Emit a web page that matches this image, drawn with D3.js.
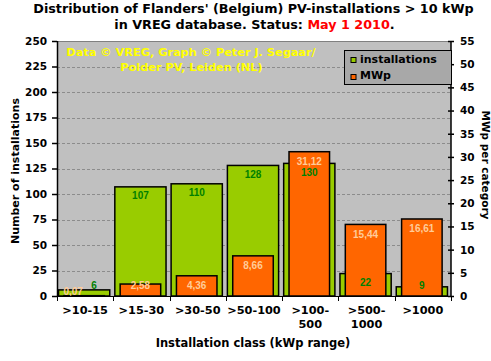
<!DOCTYPE html>
<html><head><meta charset="utf-8">
<script src="https://cdn.jsdelivr.net/npm/d3@7"></script>
<style>
body{margin:0;background:#fff;}
text{font-family:"DejaVu Sans",Verdana,sans-serif;font-weight:bold;}
</style></head>
<body><svg id="c" width="491" height="361"></svg>
<script>
const categories = [">10-15", ">15-30", ">30-50", ">50-100", ">100-500", ">500-1000", ">1000"];
const categoryLines = [[">10-15"], [">15-30"], [">30-50"], [">50-100"], [">100-", "500"], [">500-", "1000"], [">1000"]];
const installations = [6, 107, 110, 128, 130, 22, 9];
const mwp = [0.07, 2.58, 4.36, 8.66, 31.12, 15.44, 16.61];
const leftTicks = [0, 25, 50, 75, 100, 125, 150, 175, 200, 225, 250];
const rightTicks = [0, 5, 10, 15, 20, 25, 30, 35, 40, 45, 50, 55];

const svg = d3.select("#c");
const L = 57, R = 451, T = 41, B = 296;
const x = d3.scaleBand().domain(categories).range([L, R]).padding(0);
const yL = d3.scaleLinear().domain([0, 250]).range([B, T]);
const yR = d3.scaleLinear().domain([0, 55]).range([B, T]);
const bw = x.bandwidth();

// plot area
svg.append("rect").attr("x", L).attr("y", T).attr("width", R - L).attr("height", B - T).attr("fill", "#C0C0C0");
svg.append("line").attr("x1", L).attr("x2", R).attr("y1", T + 0.5).attr("y2", T + 0.5).attr("stroke", "#808080").attr("stroke-width", 1);
// gridlines
svg.append("g").selectAll("line").data(leftTicks.filter(d => d > 0 && d < 250)).join("line")
  .attr("x1", L).attr("x2", R).attr("y1", d => Math.round(yL(d)) + 0.5).attr("y2", d => Math.round(yL(d)) + 0.5)
  .attr("stroke", "#8C8C8C").attr("stroke-dasharray", "3,2");

// green bars
const gw = bw * 0.91;
svg.append("g").selectAll("rect").data(installations).join("rect")
  .attr("x", (d, i) => x(categories[i]) + bw / 2 - 1 - gw / 2)
  .attr("y", d => yL(d)).attr("width", gw).attr("height", d => B - yL(d))
  .attr("fill", "#99CC00").attr("stroke", "#000").attr("stroke-width", 1.5);
// orange bars
const ow = bw * 0.72;
svg.append("g").selectAll("rect").data(mwp).join("rect")
  .attr("x", (d, i) => x(categories[i]) + bw / 2 - 1 - ow / 2)
  .attr("y", d => yR(d)).attr("width", ow).attr("height", d => B - yR(d))
  .attr("fill", "#FF6600").attr("stroke", "#000").attr("stroke-width", 1.5);

// data labels
const fmt = v => d3.format(".2f")(v).replace(".", ",");
const nudgeG = {0: [10, 0]};
const nudgeO = {0: [-11, 5.5]};
svg.append("g").selectAll("text").data(mwp).join("text")
  .attr("x", (d, i) => x(categories[i]) + bw / 2 - 1 + (nudgeO[i] ? nudgeO[i][0] : 0))
  .attr("y", (d, i) => Math.min(yR(d) + 13.3, 289.3) + (nudgeO[i] ? nudgeO[i][1] : 0))
  .attr("text-anchor", "middle").attr("fill", "#FFCC99")
  .style("font-family", "'Liberation Sans',Arial,sans-serif").style("font-size", "10px")
  .text(d => fmt(d));
svg.append("g").selectAll("text").data(installations).join("text")
  .attr("x", (d, i) => x(categories[i]) + bw / 2 - 1 + (nudgeG[i] ? nudgeG[i][0] : 0))
  .attr("y", (d, i) => Math.min(yL(d) + 12.6, 288.8) + (nudgeG[i] ? nudgeG[i][1] : 0))
  .attr("text-anchor", "middle").attr("fill", "#008000")
  .style("font-family", "'Liberation Sans',Arial,sans-serif").style("font-size", "10px")
  .text(d => d);

// left axis
const gl = svg.append("g").attr("transform", `translate(${L},0)`)
  .call(d3.axisLeft(yL).tickValues(leftTicks).tickSize(5).tickPadding(5));
// right axis
const gr = svg.append("g").attr("transform", `translate(${R},0)`)
  .call(d3.axisRight(yR).tickValues(rightTicks).tickSize(3).tickPadding(6));
gr.selectAll(".tick line").attr("x1", -3);
// bottom axis
const gb = svg.append("g").attr("transform", `translate(0,${B})`);
gb.append("line").attr("x1", L).attr("x2", R).attr("y1", 0.5).attr("y2", 0.5).attr("stroke", "#000");
gb.selectAll(".xt").data(categories.concat(["end"])).join("line").attr("class", "xt")
  .attr("x1", (d, i) => Math.round(L + i * bw) + 0.5).attr("x2", (d, i) => Math.round(L + i * bw) + 0.5)
  .attr("y1", 0).attr("y2", 5).attr("stroke", "#000");
[gl, gr].forEach(g => {
  g.select(".domain").attr("stroke", "#000").attr("stroke-width", 1.5);
  g.selectAll(".tick line").attr("stroke", "#000").attr("stroke-width", 1.5);
  g.selectAll(".tick text").attr("fill", "#000").style("font-family", "'DejaVu Sans',Verdana,sans-serif").style("font-weight", "bold").style("font-size", "10.5px");
});
gl.select(".domain").attr("d", `M0.5,${T}V${B + 0.5}`);
gr.select(".domain").attr("d", `M0,${T}V${B + 0.5}`);

const xl = svg.append("g").selectAll("text").data(categoryLines).join("text")
  .attr("x", (d, i) => x(categories[i]) + bw / 2).attr("y", 314)
  .attr("text-anchor", "middle").style("font-size", "11.3px").attr("fill", "#000");
xl.selectAll("tspan").data(d => d).join("tspan")
  .attr("x", function () { return d3.select(this.parentNode).attr("x"); })
  .attr("dy", (d, j) => j === 0 ? 0 : 14).text(d => d);

// axis titles
svg.append("text").attr("transform", "translate(18.5,171) rotate(-90)").attr("text-anchor", "middle")
  .style("font-size", "11px").text("Number of installations");
svg.append("text").attr("transform", "translate(481.5,165) rotate(90)").attr("text-anchor", "middle")
  .style("font-size", "10.5px").text("MWp per category");
svg.append("text").attr("x", 253).attr("y", 347).attr("text-anchor", "middle")
  .style("font-size", "11.5px").text("Installation class (kWp range)");

// title
svg.append("text").attr("x", 253.5).attr("y", 13).attr("text-anchor", "middle").style("font-size", "12.75px")
  .text("Distribution of Flanders' (Belgium) PV-installations > 10 kWp");
const t2 = svg.append("text").attr("x", 254.5).attr("y", 29).attr("text-anchor", "middle").style("font-size", "12.75px");
t2.append("tspan").text("in VREG database. Status: ");
t2.append("tspan").attr("fill", "#FF0000").text("May 1 2010");
t2.append("tspan").text(".");

// watermark
svg.append("text").attr("x", 191).attr("y", 55.5).attr("text-anchor", "middle").attr("fill", "#FFFF00")
  .style("font-size", "11.3px").text("Data © VREG, Graph © Peter J. Segaar/");
svg.append("text").attr("x", 191.5).attr("y", 70.5).attr("text-anchor", "middle").attr("fill", "#FFFF00")
  .style("font-size", "11.3px").text("Polder PV, Leiden (NL)");

// legend
const lg = svg.append("g");
lg.append("rect").attr("x", 344.5).attr("y", 50.5).attr("width", 107).attr("height", 34)
  .attr("fill", "#A8A8A8").attr("stroke", "#000").attr("stroke-width", 1);
const items = [["installations", "#99CC00"], ["MWp", "#FF6600"]];
items.forEach((it, i) => {
  lg.append("rect").attr("x", 351).attr("y", 57.5 + i * 17).attr("width", 5).attr("height", 5)
    .attr("fill", it[1]).attr("stroke", "#000").attr("stroke-width", 1);
  lg.append("text").attr("x", 360).attr("y", 62.5 + i * 16.5).style("font-size", "11px").text(it[0]);
});
</script></body></html>
